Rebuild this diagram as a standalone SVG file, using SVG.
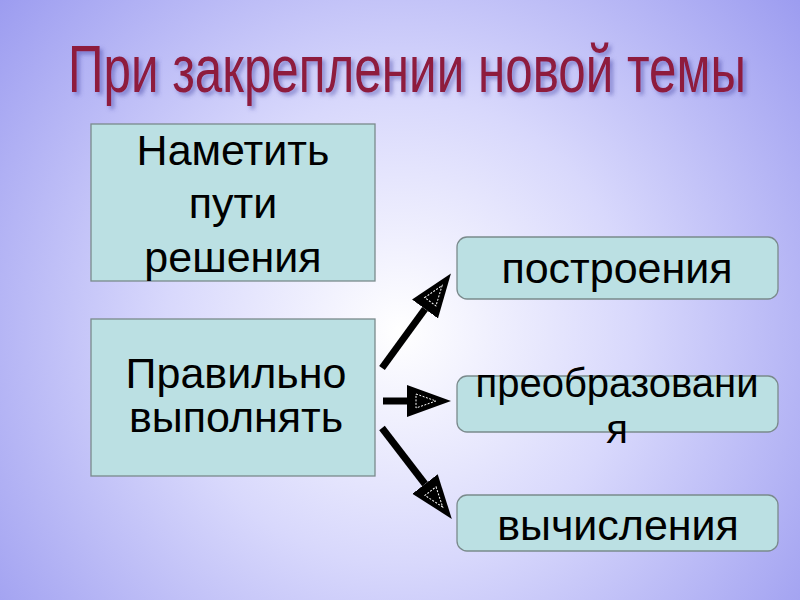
<svg xmlns="http://www.w3.org/2000/svg" width="800" height="600" viewBox="0 0 800 600">
<defs>
<radialGradient id="bg" cx="400" cy="330" r="520" gradientUnits="userSpaceOnUse">
<stop offset="0" stop-color="#FFFFFF"/>
<stop offset="0.45" stop-color="#D8D8FC"/>
<stop offset="1" stop-color="#9C9CF0"/>
</radialGradient>
<filter id="sh" filterUnits="userSpaceOnUse" x="-100" y="-100" width="1400" height="250">
<feDropShadow dx="3" dy="3" stdDeviation="2" flood-color="#4a4aa8" flood-opacity="0.55"/>
</filter>
<marker id="ah" viewBox="0 -18 46 36" refX="0" refY="0" markerWidth="46" markerHeight="36" markerUnits="userSpaceOnUse" orient="auto">
<path d="M0,-16 L44,0 L0,16 Z" fill="#000"/>
<path d="M9,-7 L29,0 L9,7 Z" fill="none" stroke="#fff" stroke-width="1" stroke-dasharray="2 1.5"/>
</marker>
</defs>
<style>
.box{fill:#BBE0E3;stroke:#7a8a8c;stroke-width:1.3}
.t{font-family:"Liberation Sans",Arial,sans-serif;font-size:43px;fill:#000;text-anchor:middle}
.conn{stroke:#000;stroke-width:7;fill:none;marker-end:url(#ah)}
</style>
<rect width="800" height="600" fill="url(#bg)"/>
<g id="title" filter="url(#sh)">
<text transform="translate(68,92) scale(0.75,1)" x="0" y="0" font-family="'Liberation Sans',Arial,sans-serif" font-size="67" fill="#8E1B3E" textLength="904" lengthAdjust="spacingAndGlyphs">При закреплении новой темы</text>
</g>
<g id="node-plan">
<rect class="box" x="91" y="124" width="284" height="157"/>
<text class="t" x="233" y="165">Наметить</text>
<text class="t" x="233" y="218">пути</text>
<text class="t" x="233" y="272">решения</text>
</g>
<g id="node-correct">
<rect class="box" x="91" y="319" width="284" height="157"/>
<text class="t" x="236" y="388">Правильно</text>
<text class="t" x="236" y="432">выполнять</text>
</g>
<g id="node-build">
<rect class="box" x="457" y="237" width="321" height="62" rx="10"/>
<text class="t" x="617" y="283">построения</text>
</g>
<g id="node-transform">
<rect class="box" x="457" y="376" width="321" height="56" rx="10"/>
<text class="t" x="617" y="397" style="font-size:40px">преобразовани</text>
<text class="t" x="617" y="443" style="font-size:40px">я</text>
</g>
<g id="node-calc">
<rect class="box" x="457" y="495" width="321" height="56" rx="10"/>
<text class="t" x="618" y="540">вычисления</text>
</g>
<g id="connectors">
<line class="conn" x1="382" y1="368" x2="425" y2="309"/>
<line class="conn" x1="383" y1="401" x2="407" y2="401"/>
<line class="conn" x1="382" y1="428" x2="425" y2="484"/>
</g>
</svg>
